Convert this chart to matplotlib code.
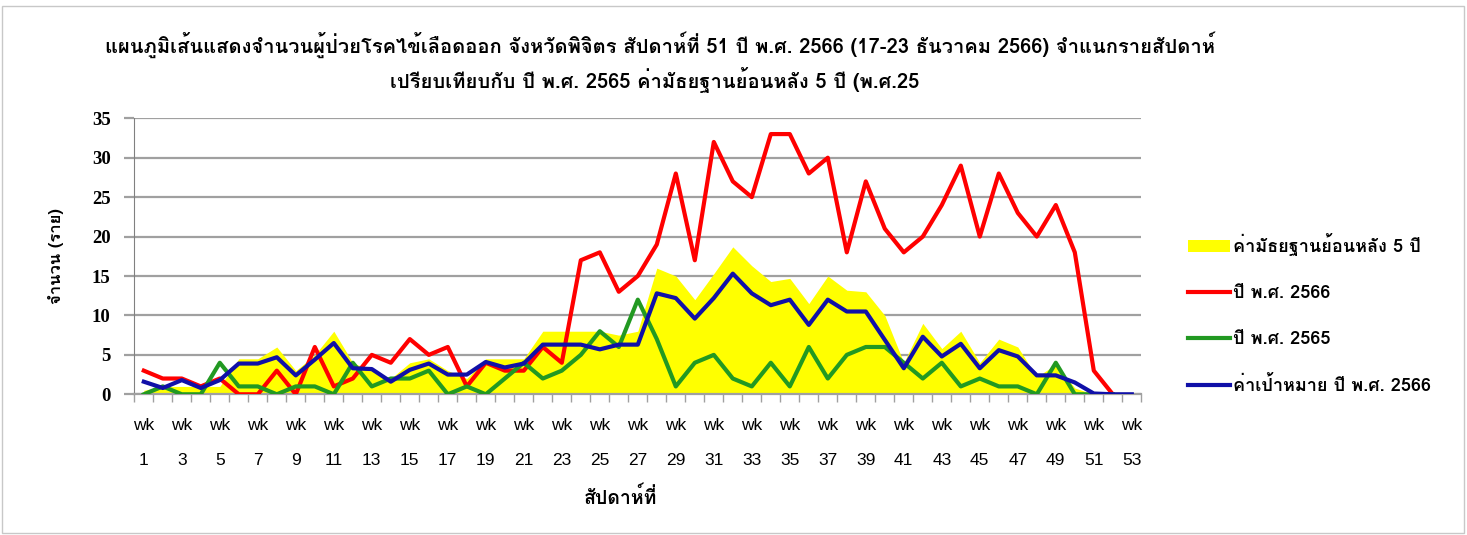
import numpy as np
import matplotlib
matplotlib.use('Agg')
import matplotlib.pyplot as plt
from matplotlib import font_manager
from matplotlib.patches import Patch, Rectangle
from matplotlib.lines import Line2D
from fontTools.ttLib import TTFont

# weekly counts (wk1..wk53)
weeks = list(range(1, 54))
median_5y = [0.5, 1, 1, 1, 1, 4.5, 4.5, 6, 3, 5, 8, 4, 3, 2, 4, 4.5, 3, 2, 4.5, 4.5,
             4.5, 8, 8, 8, 8, 7.5, 8, 16, 15, 12, 15.3, 18.7, 16.3, 14.3, 14.7, 11.5, 15, 13.2, 13, 10,
             4, 9, 5.8, 8, 4, 7, 6, 2.2, 3.8, 0.8, 0, 0, 0]
cases_2566 = [3, 2, 2, 1, 2, 0, 0, 3, 0, 6, 1, 2, 5, 4, 7, 5, 6, 1, 4, 3,
              3, 6, 4, 17, 18, 13, 15, 19, 28, 17, 32, 27, 25, 33, 33, 28, 30, 18, 27, 21,
              18, 20, 24, 29, 20, 28, 23, 20, 24, 18, 3, 0, np.nan]
cases_2565 = [0, 1, 0, 0, 4, 1, 1, 0, 1, 1, 0, 4, 1, 2, 2, 3, 0, 1, 0, 2,
              4, 2, 3, 5, 8, 6, 12, 7, 1, 4, 5, 2, 1, 4, 1, 6, 2, 5, 6, 6,
              4, 2, 4, 1, 2, 1, 1, 0, 4, 0, 0, 0, np.nan]
target_2566 = [1.6, 0.8, 1.8, 0.8, 1.8, 3.9, 3.9, 4.7, 2.4, 4.4, 6.5, 3.3, 3.2, 1.6, 3.1, 3.9, 2.5, 2.5, 4.1, 3.4,
               3.9, 6.3, 6.3, 6.3, 5.7, 6.3, 6.3, 12.8, 12.2, 9.6, 12.2, 15.3, 12.8, 11.3, 12, 8.8, 12, 10.5, 10.5, 6.9,
               3.3, 7.3, 4.8, 6.4, 3.3, 5.6, 4.8, 2.4, 2.4, 1.5, 0.1, 0, 0]

title = ('แผนภูมิเส้นแสดงจำนวนผู้ป่วยโรคไข้เลือดออก จังหวัดพิจิตร สัปดาห์ที่ 51 ปี พ.ศ. 2566 '
         '(17-23 ธันวาคม 2566) จำแนกรายสัปดาห์')
title2 = 'เปรียบเทียบกับ ปี พ.ศ. 2565 ค่ามัธยฐานย้อนหลัง 5 ปี (พ.ศ.25'
legend_labels = ['ค่ามัธยฐานย้อนหลัง 5 ปี', 'ปี พ.ศ. 2566', 'ปี พ.ศ. 2565', 'ค่าเป้าหมาย ปี พ.ศ. 2566']


def thai_families():
    # look for any installed font that has Thai glyphs
    found = []
    for f in font_manager.fontManager.ttflist:
        try:
            cmap = TTFont(f.fname, fontNumber=0, lazy=True).getBestCmap()
        except Exception:
            continue
        if cmap and 0x0E01 in cmap and f.name not in found:
            found.append(f.name)
    return found


thai = thai_families()
fam = thai + ['DejaVu Sans']
plt.rcParams['font.family'] = fam

fig = plt.figure(figsize=(14.67, 5.35), dpi=100)
ax = fig.add_axes([134.3 / 1467, 1 - 394.3 / 535, (1141.3 - 134.3) / 1467, 276 / 535])

ax.fill_between(weeks, median_5y, 0, color='#FFFF00', lw=0, zorder=1)
ax.plot(weeks, cases_2566, color='#FF0000', lw=3, zorder=3)
ax.plot(weeks, cases_2565, color='#229922', lw=3, zorder=4)
ax.plot(weeks, target_2566, color='#1010A8', lw=3, zorder=5)

ax.set_xlim(0.5, 53.5)
ax.set_ylim(0, 35)
ax.set_yticks(range(0, 36, 5))
ax.yaxis.grid(True, color='#A0A0A0', lw=1.6, zorder=0)
ax.set_axisbelow(True)
for s in ['top', 'right']:
    ax.spines[s].set_visible(False)
ax.spines['left'].set_color('#808080')
ax.spines['bottom'].set_color('#A0A0A0')
ax.spines['bottom'].set_linewidth(1.6)
ax.tick_params(axis='y', length=7, color='#A0A0A0', width=1.6, pad=10)
for lab in ax.get_yticklabels():
    lab.set_fontfamily(['Liberation Serif'])
    lab.set_fontweight('bold')
    lab.set_fontsize(13.5)

odd = weeks[::2]
ax.set_xticks(odd)
ax.set_xticklabels([f'wk\n\n{w}' for w in odd], fontfamily=['Liberation Sans'], fontsize=12.5,
                   linespacing=1.2)
ax.tick_params(axis='x', which='major', length=0, pad=17)
ax.set_xticks(np.arange(0.5, 54, 1), minor=True)
ax.tick_params(axis='x', which='minor', length=6, color='#A0A0A0', width=1)

ax.set_ylabel('จำนวน (ราย)', fontsize=12, fontweight='bold', labelpad=20)
fig.text(620 / 1467, 1 - 497 / 535, 'สัปดาห์ที่', ha='center', va='center', fontsize=14, fontweight='bold')

fig.text(660 / 1467, 1 - 45 / 535, title, ha='center', va='center', fontsize=14.5, fontweight='bold')
fig.text(655 / 1467, 1 - 80 / 535, title2, ha='center', va='center', fontsize=14.5, fontweight='bold')

handles = [Patch(facecolor='#FFFF00', edgecolor='none'),
           Line2D([], [], color='#FF0000', lw=3),
           Line2D([], [], color='#229922', lw=3),
           Line2D([], [], color='#1010A8', lw=3)]
leg = fig.legend(handles, legend_labels, loc='upper left', bbox_to_anchor=(1172 / 1467, 1 - 217 / 535),
                 frameon=False, prop={'size': 13, 'weight': 'bold'}, handlelength=2.3,
                 handletextpad=0.2, labelspacing=1.55)

fig.patches.append(Rectangle((2 / 1467, 2 / 535), 1462 / 1467, 527 / 535, transform=fig.transFigure,
                             fill=False, edgecolor='#C8C8C8', lw=1))

fig.savefig('out.png', dpi=100)
